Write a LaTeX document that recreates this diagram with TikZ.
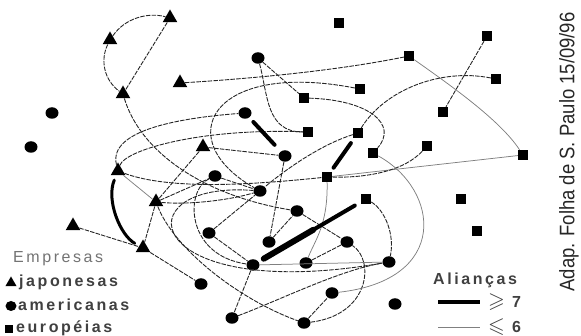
\documentclass[tikz,border=0pt]{standalone}
\usepackage{amsmath,amssymb}
\usepackage{graphicx}
\usepackage{fontspec}
\setmainfont{Liberation Sans}
\newfontfamily\legfont[LetterSpace=16]{Liberation Sans}
\usepackage{tikz}
\usetikzlibrary{shapes.geometric,calc}

\begin{document}
\begin{tikzpicture}[x=1pt,y=-1pt]
\tikzstyle{J}=[regular polygon,regular polygon sides=3,fill=black,minimum size=17pt,inner sep=0pt]
\tikzstyle{A}=[ellipse,fill=black,minimum width=13pt,minimum height=11.5pt,inner sep=0pt]
\tikzstyle{E}=[rectangle,fill=black,minimum size=10pt,inner sep=0pt]
\tikzstyle{L}=[black!85,line width=0.9pt,dash pattern=on 4.5pt off 1.2pt]
\tikzstyle{G}=[black!50,line width=0.75pt]
\tikzstyle{T}=[line width=4pt,line cap=round]
\tikzstyle{W}=[anchor=west,inner sep=0pt,text=black!75,font=\legfont\bfseries\fontsize{16}{16}\selectfont]
\useasboundingbox (0,0) rectangle (581,336);
% japonesas
\node[J] (j1) at (170,18) {};
\node[J] (j2) at (110,40) {};
\node[J] (j3) at (123,94) {};
\node[J] (j4) at (180,83) {};
\node[J] (j5) at (203,147) {};
\node[J] (j6) at (118,171) {};
\node[J] (j7) at (156,202) {};
\node[J] (j8) at (73,226) {};
\node[J] (j9) at (143,248) {};
% americanas
\node[A] (a1) at (258,58) {};
\node[A] (a2) at (52,113) {};
\node[A] (a3) at (31,147) {};
\node[A] (a4) at (245,113) {};
\node[A] (a5) at (285,156) {};
\node[A] (a6) at (215,176) {};
\node[A] (a7) at (260,191) {};
\node[A] (a8) at (297,211) {};
\node[A] (a9) at (209,233) {};
\node[A] (a10) at (269,242) {};
\node[A] (a11) at (347,242) {};
\node[A] (a12) at (253,265) {};
\node[A] (a13) at (306,263) {};
\node[A] (a14) at (389,262) {};
\node[A] (a15) at (201,284) {};
\node[A] (a16) at (332,293) {};
\node[A] (a17) at (395,304) {};
\node[A] (a18) at (232,318) {};
\node[A] (a19) at (304,323) {};
% europeias
\node[E] (e1) at (339,23) {};
\node[E] (e2) at (487,36) {};
\node[E] (e3) at (409,56) {};
\node[E] (e4) at (496,79) {};
\node[E] (e5) at (360,89) {};
\node[E] (e6) at (304,98) {};
\node[E] (e7) at (443,112) {};
\node[E] (e8) at (308,132) {};
\node[E] (e9) at (358,133) {};
\node[E] (e10) at (427,146) {};
\node[E] (e11) at (373,153) {};
\node[E] (e12) at (523,155) {};
\node[E] (e13) at (327,177) {};
\node[E] (e14) at (366,199) {};
\node[E] (e15) at (461,199) {};
\node[E] (e16) at (477,231) {};
% aliancas <= 6
\draw[L] (j2) .. controls (125,18) and (148,12) .. (j1);
\draw[L] (j1) -- (j3); \draw[L] (j2) .. controls (100,60) and (104,80) .. (j3);
\draw[L] (j3) .. controls (140,150) and (200,195) .. (a8);
\draw[L] (j4) .. controls (260,78) and (340,70) .. (e3);
\draw[L] (a1) .. controls (268,95) and (266,132) .. (e8);
\draw[L] (a1) -- (e6);
\draw[L] (e6) .. controls (370,100) and (398,125) .. (e11);
\draw[L] (e5) .. controls (210,60) and (170,140) .. (a7);
\draw[L] (j6) .. controls (108,130) and (180,118) .. (a4);
\draw[L] (j6) .. controls (125,150) and (200,128) .. (e8);
\draw[L] (j5) -- (a5); \draw[L] (j5) -- (j7);
\draw[G] (j6) -- (j7); \draw[L] (j7) -- (j9);
\draw[L] (j8) -- (j9); \draw[L] (j9) -- (a15);
\draw[L] (j7) .. controls (175,250) and (240,300) .. (a19);
\draw[L] (a6) .. controls (185,190) and (185,255) .. (a12);
\draw[L] (a7) .. controls (120,180) and (140,305) .. (a14);
\draw[G] (a12) -- (a14);
\draw[L] (a9) -- (a12); \draw[L] (a12) -- (a18);
\draw[L] (a18) .. controls (280,300) and (340,270) .. (a14);
\draw[L] (a19) -- (a16);
\draw[L] (a19) .. controls (370,315) and (375,260) .. (a11);
\draw[L] (e2) -- (e7);
\draw[G] (e3) .. controls (450,85) and (500,120) .. (e12);
\draw[L] (e4) .. controls (440,68) and (385,90) .. (e9);
\draw[G] (e13) -- (e12);
\draw[L] (e10) .. controls (405,170) and (370,178) .. (e13);
\draw[G] (e13) .. controls (328,225) and (315,240) .. (a13);
\draw[G] (e11) .. controls (440,190) and (450,280) .. (a16);
\draw[L] (e14) .. controls (385,210) and (395,235) .. (a14);
\draw[L] (e9) .. controls (320,145) and (285,170) .. (a7);
\draw[L] (a5) -- (a10); \draw[L] (a6) -- (a7);
\draw[L] (j7) -- (a6);
\draw[L] (j7) .. controls (190,205) and (230,200) .. (a7);
\draw[L] (j6) .. controls (170,190) and (250,185) .. (e13);
\draw[L] (a8) -- (a11); \draw[L] (a13) -- (a11);
\draw[L] (a9) -- (a7); \draw[L] (a10) -- (a8);
% aliancas >= 7
\draw[T,shorten <=6pt,shorten >=9pt] (a4) -- (a5);
\draw[T,shorten <=6pt,shorten >=5pt] (e9) -- (e13);
\draw[T,line width=3pt,shorten <=5pt,shorten >=5pt] (j6) .. controls (106,200) and (120,235) .. (j9);
\draw[T,shorten <=7pt,shorten >=6pt] (e14) -- (a12);
\draw[T,line width=6pt,shorten <=55pt,shorten >=6pt] (e14) -- (a12);
% legenda
\node[W,text=black!55,font=\legfont\fontsize{16}{16}\selectfont] (emp) at (13,259) {Empresas};
\node[J,minimum size=13pt] (lj) at (11,283) {};
\node[W] (tj) at (19,282) {japonesas};
\node[A,minimum width=11pt,minimum height=10pt] (la) at (11,306) {};
\node[W] (ta) at (18,305) {americanas};
\node[E,minimum size=7.5pt] (le) at (9,329) {};
\node[W] (te) at (16,328) {européias};
\node[W] (ali) at (433,280) {Alianças};
\coordinate (f1) at (438,302); \coordinate (f2) at (480,302);
\draw[line width=4pt] (f1) -- (f2);
\node[W] (ge) at (488,302) {\scalebox{1.35}{$\geqslant$} 7};
\coordinate (g1) at (438,327); \coordinate (g2) at (480,327);
\draw[G,line width=0.8pt] (g1) -- (g2);
\node[W] (le6) at (488,327) {\scalebox{1.35}{$\leqslant$} 6};
\node[rotate=90,text=black!85,font=\fontsize{21}{21}\selectfont] (src) at (569,152) {\scalebox{0.88}[1]{Adap. Folha de S. Paulo 15/09/96}};
\end{tikzpicture}
\end{document}
